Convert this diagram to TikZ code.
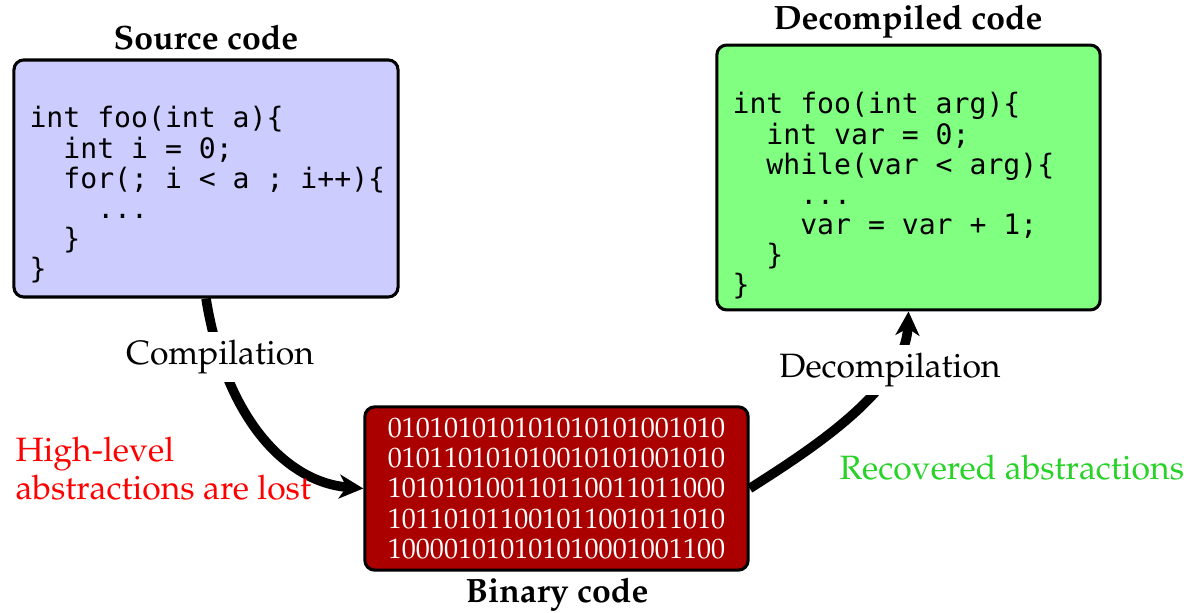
\documentclass[tikz,border=0pt]{standalone}
\usepackage[T1]{fontenc}
\usepackage{fontspec}
\setmonofont{DejaVu Sans Mono}
\usetikzlibrary{arrows.meta}

\newcommand\palfont{\fontencoding{T1}\fontfamily{ppl}\selectfont}
\newcommand\codeind{\hphantom{xx}}

\definecolor{srcblue}{RGB}{204,204,255}
\definecolor{decgreen}{RGB}{128,255,128}
\definecolor{bindark}{RGB}{170,0,0}
\definecolor{lostred}{RGB}{255,0,0}
\definecolor{recgreen}{RGB}{40,210,40}

\begin{document}
\begin{tikzpicture}[
    x=0.0125cm, y=-0.0125cm,
    every node/.style={font=\palfont\fontsize{12}{13.5}\selectfont},
    codebox/.style={draw, line width=1.1pt, rounded corners=3.5pt, inner sep=0pt},
    code/.style={font=\ttfamily\fontsize{10}{10.7}\selectfont, align=left, anchor=north west, inner sep=0pt},
    boxtitle/.style={font=\palfont\bfseries\fontsize{12}{14}\selectfont, anchor=base},
    flow/.style={line width=3.4pt, -{Stealth[length=8.5pt, width=8.5pt, inset=2.5pt]}},
    steplabel/.style={fill=white, inner sep=3pt},
    note/.style={align=left, anchor=west, inner sep=0pt}
]
\useasboundingbox (0,0) rectangle (1184,613);

% the three boxes
\node[codebox, fill=srcblue, minimum width=4.8cm, minimum height=2.9625cm] (src) at (206,178.5) {};
\node[codebox, fill=decgreen, minimum width=4.79cm, minimum height=3.31cm] (dec) at (908.5,177.5) {};
\node[codebox, fill=bindark, minimum width=4.79cm, minimum height=2.04cm,
      text=white, align=center, font=\palfont\fontsize{10}{10.7}\selectfont] (bin) at (556.5,488.5)
  {010101010101010101001010\\
   010110101010010101001010\\
   101010100110110011011000\\
   101101011001011001011010\\
   100001010101010001001100};

% code listings
\node[code] (srctext) at (29,106) {%
int foo(int a)\{\\
\codeind int i = 0;\\
\codeind for(; i < a ; i++)\{\\
\codeind\codeind ...\\
\codeind \}\\
\}};
\node[code] (dectext) at (732,92) {%
int foo(int arg)\{\\
\codeind int var = 0;\\
\codeind while(var < arg)\{\\
\codeind\codeind ...\\
\codeind\codeind var = var + 1;\\
\codeind \}\\
\}};

% titles
\node[boxtitle] (srctitle) at (206,50) {Source code};
\node[boxtitle] (dectitle) at (908,30) {Decompiled code};
\node[boxtitle] (bintitle) at (557,603) {Binary code};

% compilation / decompilation
\draw[flow] (src.south) .. controls +(20,123) and +(-75,-6) .. (bin.west);
\draw[flow] (bin.east) .. controls +(52,-33.5) and +(-3.5,80) .. (dec.south);
\node[steplabel] (compl) at (220,357) {Compilation};
\node[steplabel] (decompl) at (890,370) {Decompilation};

% side notes
\node[note, text=lostred] (lost) at (15,469) {High-level\\abstractions are lost};
\node[note, text=recgreen] (recovered) at (839,468) {Recovered abstractions};
\end{tikzpicture}
\end{document}
